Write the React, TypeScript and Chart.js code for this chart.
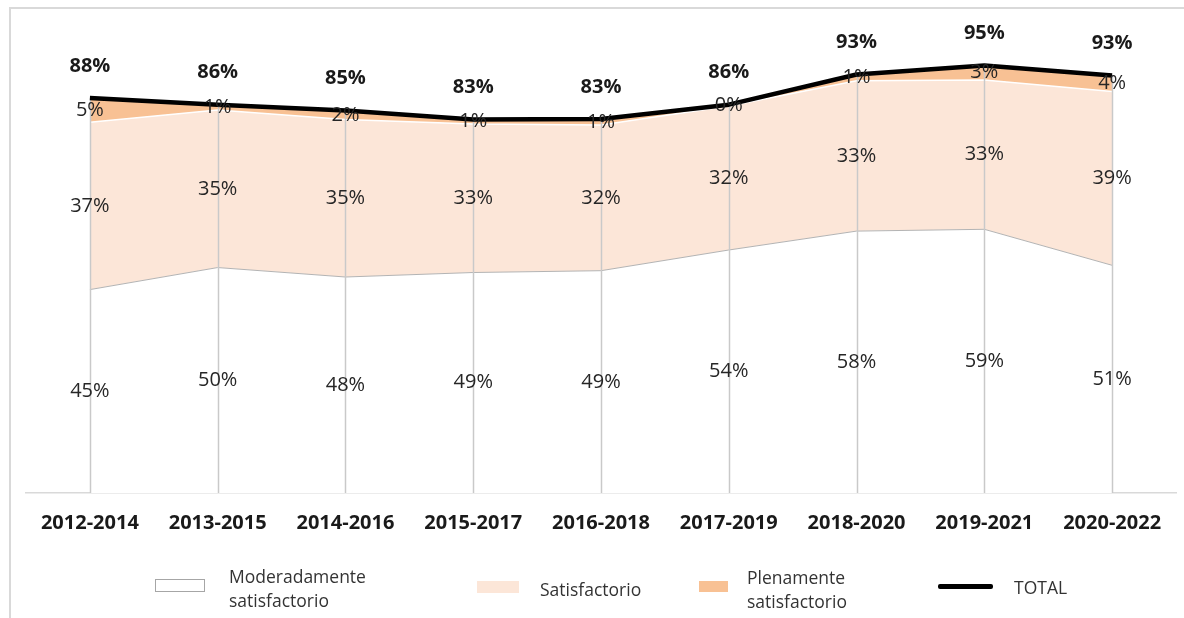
import React, { useEffect, useRef } from "react";
import { Chart, registerables } from "chart.js";

Chart.register(...registerables);

// ---- data ----
const categories = [
  "2012-2014", "2013-2015", "2014-2016", "2015-2017", "2016-2018",
  "2017-2019", "2018-2020", "2019-2021", "2020-2022",
];
const moderado = [45.2, 50.1, 48.0, 49.0, 49.4, 54.0, 58.2, 58.6, 50.6];
const satisfactorio = [37.2, 35.0, 35.0, 33.0, 32.4, 32.0, 33.4, 33.2, 38.6];
const plenamente = [5.4, 1.2, 2.0, 1.0, 1.3, 0.3, 1.4, 3.2, 3.6];
const total = [87.8, 86.3, 85.0, 83.0, 83.1, 86.3, 93.0, 95.0, 92.8];
const seriesNames = ["Moderadamente satisfactorio", "Satisfactorio", "Plenamente satisfactorio", "TOTAL"];
const yMin = 0;
const yMax = 100;

const FONT = "'Open Sans', 'Noto Sans', sans-serif";
const colMod = "#ffffff";
const colModLine = "#b3b3b3";
const colSat = "#fce6d8";
const colPlen = "#f8c194";
const colTotal = "#000000";

const stacked = [moderado, satisfactorio, plenamente];

const pct = (v: number) => `${Math.round(v)}%`;

const overlayPlugin = {
  id: "overlay",
  beforeDatasetDraw(chart: any, args: any) {
    if (args.index !== 3) return;
    const ctx = chart.ctx;
    const xs = chart.scales.x;
    const ys = chart.scales.y;
    ctx.save();
    ctx.strokeStyle = "#c9c9c9";
    ctx.lineWidth = 1.5;
    categories.forEach((_, i) => {
      const top = moderado[i] + satisfactorio[i] + plenamente[i];
      const px = Math.round(xs.getPixelForValue(i)) + 0.5;
      ctx.beginPath();
      ctx.moveTo(px, ys.getPixelForValue(top));
      ctx.lineTo(px, ys.getPixelForValue(0));
      ctx.stroke();
    });
    ctx.restore();
  },
  afterDatasetsDraw(chart: any) {
    const ctx = chart.ctx;
    const xs = chart.scales.x;
    const ys = chart.scales.y;
    ctx.save();
    ctx.textAlign = "center";
    ctx.textBaseline = "middle";
    ctx.fillStyle = "#262626";
    ctx.font = `20px ${FONT}`;
    categories.forEach((_, i) => {
      let base = 0;
      const px = xs.getPixelForValue(i);
      stacked.forEach((arr) => {
        const v = arr[i];
        const py = ys.getPixelForValue(base + v / 2);
        ctx.fillText(pct(v), px, py);
        base += v;
      });
    });
    ctx.font = `bold 20px ${FONT}`;
    ctx.fillStyle = "#1a1a1a";
    categories.forEach((_, i) => {
      const px = xs.getPixelForValue(i);
      const py = ys.getPixelForValue(total[i]) - 32;
      ctx.fillText(pct(total[i]), px, py);
    });
    ctx.restore();
  },
};

export default function App() {
  const ref = useRef<HTMLCanvasElement>(null);

  useEffect(() => {
    if (!ref.current) return;
    const chart = new Chart(ref.current, {
      type: "line",
      data: {
        labels: categories,
        datasets: [
          {
            label: seriesNames[0],
            data: moderado,
            fill: "origin",
            backgroundColor: colMod,
            borderColor: colModLine,
            borderWidth: 1,
            pointRadius: 0,
            tension: 0,
            yAxisID: "y",
          },
          {
            label: seriesNames[1],
            data: satisfactorio,
            fill: "-1",
            backgroundColor: colSat,
            borderColor: "#ffffff",
            borderWidth: 1.5,
            pointRadius: 0,
            tension: 0,
            yAxisID: "y",
          },
          {
            label: seriesNames[2],
            data: plenamente,
            fill: "-1",
            backgroundColor: colPlen,
            borderColor: colPlen,
            borderWidth: 0,
            pointRadius: 0,
            tension: 0,
            yAxisID: "y",
          },
          {
            label: seriesNames[3],
            data: total,
            fill: false,
            borderColor: colTotal,
            borderWidth: 4.5,
            borderJoinStyle: "round",
            pointRadius: 0,
            tension: 0,
            yAxisID: "y2",
            order: -1,
          },
        ],
      },
      options: {
        responsive: false,
        animation: false,
        layout: { padding: { left: 26, right: 8, top: 43, bottom: 65 } },
        plugins: { legend: { display: false }, tooltip: { enabled: false } },
        scales: {
          x: {
            offset: true,
            grid: { display: false, drawTicks: false },
            border: { display: true, color: "#d9d9d9", width: 1.5 },
            ticks: {
              color: "#1a1a1a",
              padding: 18,
              maxRotation: 0,
              autoSkip: false,
              font: { family: FONT, size: 20, weight: "bold" },
            },
          },
          y: { display: false, stacked: true, min: yMin, max: yMax },
          y2: { display: false, stacked: false, min: yMin, max: yMax },
        },
      },
      plugins: [overlayPlugin],
    } as any);
    return () => chart.destroy();
  }, []);

  const text: React.CSSProperties = {
    position: "absolute",
    fontFamily: FONT,
    fontSize: 17.5,
    lineHeight: "24px",
    color: "#333333",
    whiteSpace: "nowrap",
  };

  return (
    <div style={{ position: "fixed", left: 0, top: 0, width: 1184, height: 618, overflow: "hidden", background: "#fff" }}>
      <div style={{ position: "absolute", left: 9, top: 7, width: 1300, height: 700, border: "2px solid #d9d9d9" }} />
      <canvas ref={ref} width={1184} height={618} style={{ position: "absolute", left: 0, top: 0, width: 1184, height: 618 }} />
      {/* legend */}
      <div style={{ position: "absolute", left: 155, top: 579, width: 48, height: 11, border: "1px solid #a6a6a6", background: colMod }} />
      <div style={{ ...text, left: 229, top: 564 }}>Moderadamente<br />satisfactorio</div>
      <div style={{ position: "absolute", left: 477, top: 581, width: 42, height: 12, background: colSat }} />
      <div style={{ ...text, left: 540, top: 577 }}>{seriesNames[1]}</div>
      <div style={{ position: "absolute", left: 699, top: 581, width: 29, height: 11, background: colPlen }} />
      <div style={{ ...text, left: 747, top: 565 }}>Plenamente<br />satisfactorio</div>
      <div style={{ position: "absolute", left: 938, top: 584, width: 55, height: 4.5, background: colTotal, borderRadius: 2 }} />
      <div style={{ ...text, left: 1014, top: 575 }}>{seriesNames[3]}</div>
    </div>
  );
}
